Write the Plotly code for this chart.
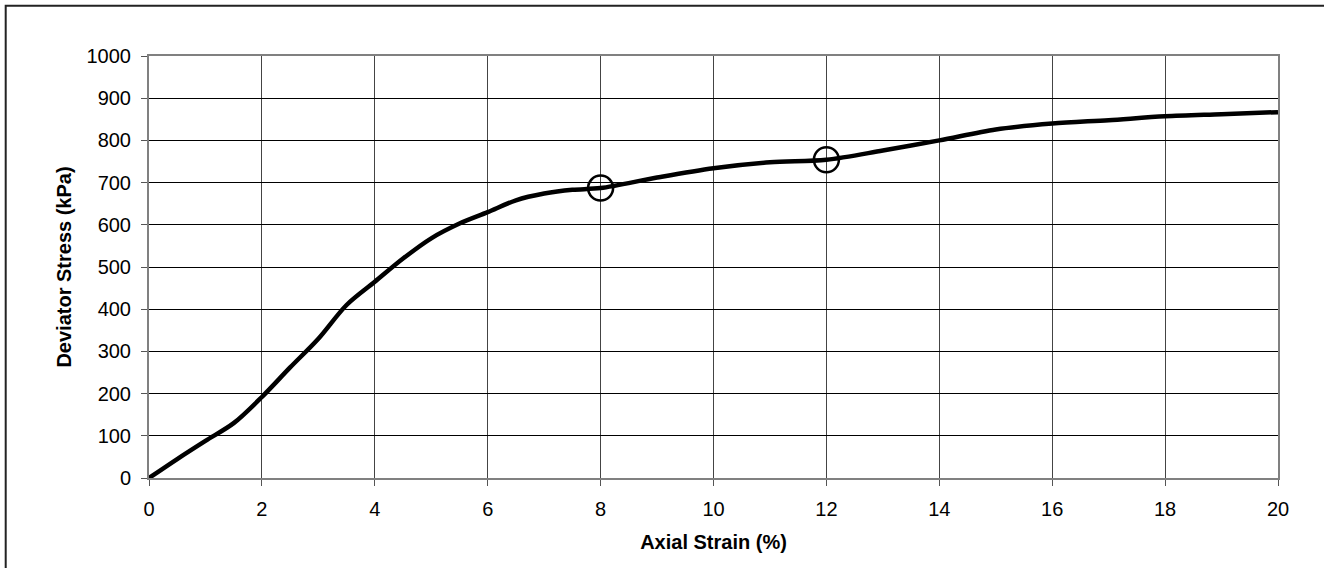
import plotly.graph_objects as go

strain = [0, 0.5, 1, 1.5, 2, 2.5, 3, 3.5, 4, 4.5, 5, 5.5, 6, 6.5, 7, 7.5, 8,
          9, 10, 11, 12, 13, 14, 15, 16, 17, 18, 19, 20]
stress = [0, 45, 88, 130, 192, 262, 330, 410, 465, 520, 568, 603, 630, 658, 674, 683, 687,
          712, 734, 748, 754, 776, 800, 826, 840, 848, 857, 862, 867]

mark_strain = [8, 12]
mark_stress = [687, 754]

x_ticks = list(range(0, 21, 2))
y_ticks = list(range(0, 1001, 100))

FONT = "Liberation Sans, Arial, sans-serif"

fig = go.Figure()
fig.add_trace(go.Scatter(
    x=strain, y=stress, mode="lines",
    line=dict(color="black", width=4.5, shape="spline", smoothing=0.9),
    showlegend=False, hoverinfo="skip"))
fig.add_trace(go.Scatter(
    x=mark_strain, y=mark_stress, mode="markers",
    marker=dict(symbol="circle-open", size=25, color="black", line=dict(width=2.5, color="black")),
    showlegend=False))

L, R, T, B = 149, 46, 56, 90
W = 1324 - L - R
H = 568 - T - B

def px_x(p):
    return (p - L) / W

def px_y(p):
    return (568 - B - p) / H

fig.update_layout(
    width=1324, height=568,
    margin=dict(l=L, r=R, t=T, b=B),
    paper_bgcolor="white", plot_bgcolor="white",
    font=dict(family=FONT, size=20, color="black"),
    xaxis=dict(
        range=[0, 20], tickvals=x_ticks, ticktext=[str(v) for v in x_ticks],
        showgrid=True, gridcolor="#444444", gridwidth=1,
        showline=True, linecolor="#808080", linewidth=2, mirror=True,
        ticks="outside", ticklen=6, tickcolor="#555555", tickwidth=1,
        zeroline=False, ticklabelstandoff=6,
        title=dict(text="<b>Axial Strain (%)</b>", font=dict(size=20, family=FONT), standoff=16),
    ),
    yaxis=dict(
        range=[0, 1000], tickvals=y_ticks, ticktext=[str(v) for v in y_ticks],
        showgrid=True, gridcolor="black", gridwidth=1,
        showline=True, linecolor="#808080", linewidth=2, mirror=True,
        ticks="outside", ticklen=6, tickcolor="#555555", tickwidth=1,
        zeroline=False, ticklabelstandoff=6,
        title=dict(text="<b>Deviator Stress (kPa)</b>", font=dict(size=20, family=FONT), standoff=10),
    ),
    shapes=[
        dict(type="rect", xref="paper", yref="paper",
             x0=px_x(5.7), x1=px_x(1340), y0=px_y(5.7), y1=px_y(600),
             line=dict(color="#222222", width=2), fillcolor="rgba(0,0,0,0)", layer="below"),
    ],
)

fig.write_html("out.html")
